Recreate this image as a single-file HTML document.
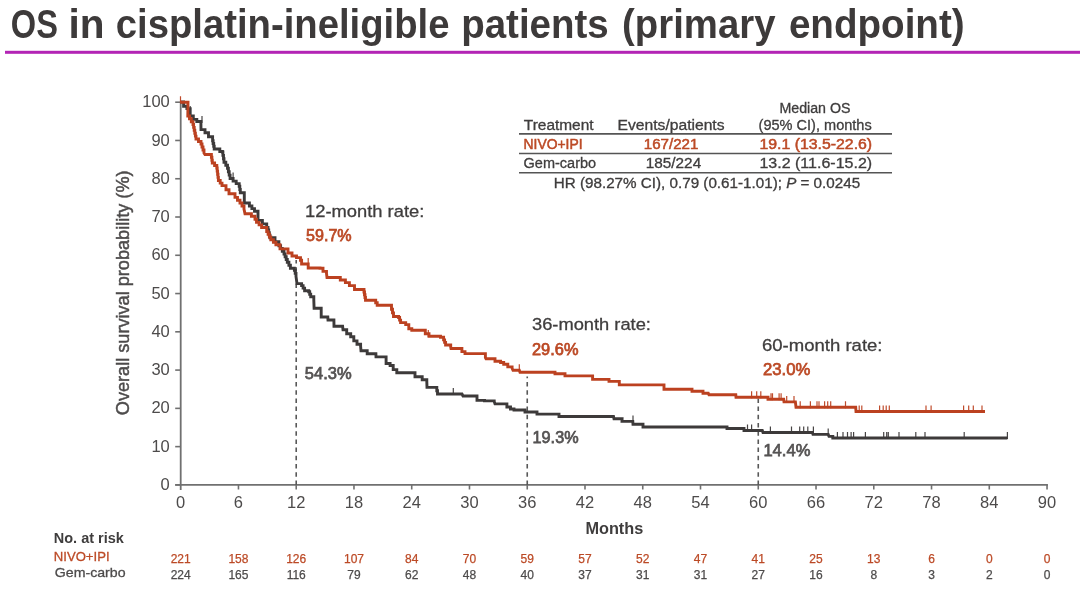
<!DOCTYPE html><html><head><meta charset="utf-8"><style>html,body{margin:0;padding:0;background:#fff;}svg{display:block;will-change:transform;}text{font-family:"Liberation Sans",sans-serif;}</style></head><body>
<svg width="1080" height="591" viewBox="0 0 1080 591">
<rect x="5" y="50.8" width="1075" height="3" fill="#B325B5"/>
<line x1="180.7" y1="101.69999999999999" x2="180.7" y2="489.9" stroke="#707070" stroke-width="1.8"/>
<line x1="175.2" y1="484.9" x2="1047.94" y2="484.9" stroke="#707070" stroke-width="1.8"/>
<line x1="175.2" y1="484.90" x2="180.7" y2="484.90" stroke="#707070" stroke-width="1.6"/>
<line x1="175.2" y1="446.63" x2="180.7" y2="446.63" stroke="#707070" stroke-width="1.6"/>
<line x1="175.2" y1="408.36" x2="180.7" y2="408.36" stroke="#707070" stroke-width="1.6"/>
<line x1="175.2" y1="370.09" x2="180.7" y2="370.09" stroke="#707070" stroke-width="1.6"/>
<line x1="175.2" y1="331.82" x2="180.7" y2="331.82" stroke="#707070" stroke-width="1.6"/>
<line x1="175.2" y1="293.55" x2="180.7" y2="293.55" stroke="#707070" stroke-width="1.6"/>
<line x1="175.2" y1="255.28" x2="180.7" y2="255.28" stroke="#707070" stroke-width="1.6"/>
<line x1="175.2" y1="217.01" x2="180.7" y2="217.01" stroke="#707070" stroke-width="1.6"/>
<line x1="175.2" y1="178.74" x2="180.7" y2="178.74" stroke="#707070" stroke-width="1.6"/>
<line x1="175.2" y1="140.47" x2="180.7" y2="140.47" stroke="#707070" stroke-width="1.6"/>
<line x1="175.2" y1="102.20" x2="180.7" y2="102.20" stroke="#707070" stroke-width="1.6"/>
<line x1="238.46" y1="484.9" x2="238.46" y2="489.5" stroke="#707070" stroke-width="1.6"/>
<line x1="296.21" y1="484.9" x2="296.21" y2="489.5" stroke="#707070" stroke-width="1.6"/>
<line x1="353.97" y1="484.9" x2="353.97" y2="489.5" stroke="#707070" stroke-width="1.6"/>
<line x1="411.72" y1="484.9" x2="411.72" y2="489.5" stroke="#707070" stroke-width="1.6"/>
<line x1="469.48" y1="484.9" x2="469.48" y2="489.5" stroke="#707070" stroke-width="1.6"/>
<line x1="527.24" y1="484.9" x2="527.24" y2="489.5" stroke="#707070" stroke-width="1.6"/>
<line x1="584.99" y1="484.9" x2="584.99" y2="489.5" stroke="#707070" stroke-width="1.6"/>
<line x1="642.75" y1="484.9" x2="642.75" y2="489.5" stroke="#707070" stroke-width="1.6"/>
<line x1="700.50" y1="484.9" x2="700.50" y2="489.5" stroke="#707070" stroke-width="1.6"/>
<line x1="758.26" y1="484.9" x2="758.26" y2="489.5" stroke="#707070" stroke-width="1.6"/>
<line x1="816.02" y1="484.9" x2="816.02" y2="489.5" stroke="#707070" stroke-width="1.6"/>
<line x1="873.77" y1="484.9" x2="873.77" y2="489.5" stroke="#707070" stroke-width="1.6"/>
<line x1="931.53" y1="484.9" x2="931.53" y2="489.5" stroke="#707070" stroke-width="1.6"/>
<line x1="989.28" y1="484.9" x2="989.28" y2="489.5" stroke="#707070" stroke-width="1.6"/>
<line x1="1047.04" y1="484.9" x2="1047.04" y2="489.5" stroke="#707070" stroke-width="1.6"/>
<line x1="519" y1="133.9" x2="892" y2="133.9" stroke="#555" stroke-width="1.6"/>
<line x1="519" y1="153.5" x2="892" y2="153.5" stroke="#555" stroke-width="1.6"/>
<line x1="519" y1="172.8" x2="892" y2="172.8" stroke="#555" stroke-width="1.6"/>
<line x1="296.21" y1="484.9" x2="296.21" y2="260" stroke="#585858" stroke-width="1.6" stroke-dasharray="4.5 3.7"/>
<line x1="527.24" y1="484.9" x2="527.24" y2="376.5" stroke="#585858" stroke-width="1.6" stroke-dasharray="4.5 3.7"/>
<line x1="758.26" y1="484.9" x2="758.26" y2="398" stroke="#585858" stroke-width="1.6" stroke-dasharray="4.5 3.7"/>
<path d="M180.5,102.0 L183.6,102.0 L183.6,106.2 L186.9,106.2 L186.9,108.6 L190.2,108.6 L190.2,111.0 L190.2,116.0 L193.3,116.0 L193.3,119.4 L196.8,119.4 L196.8,121.5 L200.9,121.5 L201.0,129.6 L205.0,129.6 L205.0,132.7 L208.5,132.7 L208.5,136.7 L212.6,136.7 L212.6,140.8 L213.1,140.8 L213.1,143.5 L213.7,143.5 L213.7,146.3 L214.2,146.3 L214.2,149.0 L219.8,149.0 L219.8,151.5 L222.4,151.5 L222.4,152.0 L222.9,152.0 L222.9,155.4 L223.5,155.4 L223.5,158.8 L224.0,158.8 L224.0,162.2 L225.8,162.2 L225.8,165.2 L227.5,165.2 L227.5,168.3 L228.4,168.3 L228.4,171.7 L229.2,171.7 L229.2,175.1 L230.1,175.1 L230.1,178.5 L233.1,178.5 L233.1,181.1 L236.2,181.1 L236.2,183.6 L239.2,183.6 L239.2,186.2 L239.8,186.2 L239.8,189.5 L240.3,189.5 L240.3,192.8 L244.3,192.8 L244.3,193.8 L244.3,203.0 L249.4,203.0 L249.4,206.0 L251.9,206.0 L251.9,208.6 L254.5,208.6 L254.5,211.2 L258.0,211.2 L258.0,220.4 L262.4,220.4 L262.4,223.9 L266.7,223.9 L266.7,227.5 L268.0,227.5 L268.0,230.0 L268.7,230.0 L268.7,232.6 L269.3,232.6 L269.3,235.1 L270.0,235.1 L270.0,237.7 L275.0,237.7 L275.0,241.8 L278.9,241.8 L278.9,245.8 L280.6,245.8 L280.6,248.5 L282.3,248.5 L282.3,251.3 L284.0,251.3 L284.0,254.0 L285.1,254.0 L285.1,256.7 L286.2,256.7 L286.2,259.5 L287.3,259.5 L287.3,262.2 L288.9,262.2 L288.9,265.2 L290.4,265.2 L290.4,268.3 L294.4,268.3 L294.4,270.4 L295.2,270.4 L295.2,273.4 L296.0,273.4 L296.0,276.5 L297.0,283.6 L301.6,283.6 L301.6,285.6 L303.1,285.6 L303.1,288.1 L304.6,288.1 L304.6,290.7 L308.7,290.7 L308.7,291.8 L309.7,291.8 L309.7,294.3 L310.7,294.3 L310.7,296.8 L313.8,296.8 L313.8,299.9 L314.1,308.3 L321.2,308.3 L321.2,317.0 L327.8,317.0 L328.0,320.0 L333.9,320.0 L334.0,326.2 L342.6,326.2 L343.0,329.7 L346.7,329.7 L346.7,333.8 L350.7,333.8 L350.7,336.8 L353.8,336.8 L353.8,340.9 L357.0,340.9 L357.0,344.2 L360.6,344.2 L360.6,346.2 L361.0,350.8 L367.2,350.8 L367.2,353.8 L375.9,353.8 L376.0,356.9 L386.1,356.9 L386.1,363.5 L390.1,363.5 L390.1,365.5 L393.2,365.5 L393.2,369.6 L396.8,369.6 L396.8,372.7 L413.6,372.7 L415.0,372.7 L415.0,376.8 L422.2,376.8 L422.2,379.8 L426.8,379.8 L426.8,381.3 L427.0,387.4 L436.0,387.4 L436.8,387.4 L436.8,390.7 L437.5,390.7 L437.5,394.0 L462.0,394.0 L463.0,396.0 L475.0,396.0 L477.0,396.0 L477.0,400.4 L484.5,400.4 L484.5,400.9 L494.2,400.9 L494.2,401.4 L495.0,403.9 L503.4,403.9 L506.9,403.9 L506.9,407.0 L510.5,407.0 L510.5,409.0 L514.0,409.0 L514.0,410.0 L523.2,410.0 L525.0,410.0 L525.0,412.0 L535.4,412.0 L537.0,412.0 L537.0,414.1 L556.8,414.1 L559.0,414.1 L559.0,416.5 L613.5,416.5 L614.0,418.8 L622.1,418.8 L622.0,421.4 L632.8,421.4 L633.0,424.3 L643.0,424.3 L643.0,427.0 L725.1,427.0 L727.0,427.0 L727.0,428.5 L744.0,428.5 L744.0,430.5 L762.3,430.5 L763.0,432.5 L812.4,432.5 L813.0,434.4 L828.2,434.4 L829.0,436.4 L832.8,436.4 L832.8,438.0 L1007.4,438.0" fill="none" stroke="#3d3a3a" stroke-width="2.9" stroke-linejoin="miter" stroke-linecap="butt"/>
<path d="M190.2,113.0 V106.0 M202.0,123.0 V116.0 M233.1,179.5 V172.5 M453.3,395.0 V388.0 M633.0,422.4 V415.4 M747.5,431.5 V424.5 M751.6,431.5 V424.5 M770.4,433.5 V426.5 M791.5,433.5 V426.5 M799.7,433.5 V426.5 M803.7,433.5 V426.5 M807.8,433.5 V426.5 M813.4,433.5 V426.5 M828.2,435.4 V428.4 M837.4,439.0 V432.0 M843.0,439.0 V432.0 M847.5,439.0 V432.0 M851.1,439.0 V432.0 M853.6,439.0 V432.0 M865.4,439.0 V432.0 M883.7,439.0 V432.0 M886.7,439.0 V432.0 M888.3,439.0 V432.0 M899.0,439.0 V432.0 M915.8,439.0 V432.0 M925.0,439.0 V432.0 M964.2,439.0 V432.0 M1007.4,439.0 V432.0" fill="none" stroke="#3d3a3a" stroke-width="1.2" opacity="0.95"/>
<path d="M180.5,102.3 L188.0,102.3 L187.8,116.0 L189.5,116.0 L189.5,118.8 L191.3,118.8 L191.3,121.7 L193.0,121.7 L193.0,124.5 L193.6,124.5 L193.6,127.4 L194.2,127.4 L194.2,130.3 L194.8,130.3 L194.8,133.2 L195.4,133.2 L195.4,136.1 L196.0,136.1 L196.0,139.0 L198.5,139.0 L198.5,141.5 L201.0,141.5 L201.0,144.0 L202.0,144.0 L202.0,147.0 L203.0,147.0 L203.0,150.0 L204.0,150.0 L204.0,153.0 L205.0,154.5 L211.0,154.5 L211.4,154.5 L211.4,157.3 L211.9,157.3 L211.9,160.2 L212.3,160.2 L212.3,163.0 L214.6,163.0 L214.6,165.5 L216.8,165.5 L216.8,168.0 L217.2,168.0 L217.2,171.1 L217.6,171.1 L217.6,174.2 L218.0,174.2 L218.0,177.4 L218.4,177.4 L218.4,180.5 L220.2,180.5 L220.2,183.1 L222.0,183.1 L222.0,185.6 L226.0,185.6 L226.0,189.7 L229.0,189.7 L229.0,193.8 L235.0,193.8 L235.0,197.4 L237.5,197.4 L237.5,200.2 L240.0,200.2 L240.0,203.0 L242.0,203.0 L242.0,206.0 L244.0,206.0 L244.0,209.0 L245.0,213.7 L251.4,213.7 L251.4,216.3 L255.0,216.3 L255.0,219.3 L256.5,219.3 L256.5,222.4 L259.1,222.4 L259.1,224.9 L261.6,224.9 L261.6,227.5 L266.7,227.5 L266.7,231.6 L268.1,231.6 L268.1,234.3 L269.4,234.3 L269.4,237.0 L270.8,237.0 L270.8,239.7 L273.4,239.7 L273.4,242.2 L275.9,242.2 L275.9,244.8 L280.0,244.8 L280.0,248.9 L288.0,248.9 L288.0,253.0 L292.0,253.0 L292.0,256.0 L296.5,256.0 L296.5,257.6 L300.5,257.6 L300.5,260.2 L301.6,260.2 L301.6,264.0 L308.2,264.0 L308.2,268.0 L320.0,268.0 L320.0,268.3 L323.0,268.3 L323.0,271.4 L326.5,271.4 L326.5,273.4 L327.0,277.5 L337.7,277.5 L340.3,277.5 L340.3,280.0 L345.4,280.0 L345.4,282.6 L349.4,282.6 L349.4,285.6 L354.5,285.6 L354.5,286.0 L354.5,289.5 L362.0,289.5 L364.0,289.5 L364.0,292.0 L364.5,292.0 L364.5,294.7 L365.0,294.7 L365.0,297.5 L365.5,297.5 L365.5,300.2 L374.2,300.2 L375.7,300.2 L375.7,302.8 L377.2,302.8 L377.2,305.3 L387.4,305.3 L391.5,305.3 L391.5,309.3 L392.5,309.3 L392.5,312.9 L393.5,312.9 L393.5,316.5 L398.6,316.5 L398.6,317.5 L399.6,317.5 L399.6,320.1 L400.6,320.1 L400.6,322.6 L405.7,322.6 L405.7,324.6 L408.8,324.6 L408.8,328.7 L411.8,328.7 L411.8,330.2 L423.2,330.2 L425.3,330.2 L425.3,333.8 L429.0,333.8 L429.0,336.3 L440.5,336.3 L440.5,337.3 L443.6,337.3 L443.6,339.9 L444.6,339.9 L444.6,342.4 L445.6,342.4 L445.6,345.0 L450.7,345.0 L450.7,347.0 L451.0,348.5 L458.9,348.5 L461.9,348.5 L461.9,351.6 L465.0,351.6 L465.0,353.6 L481.3,353.6 L485.4,353.6 L485.4,357.7 L486.0,358.7 L493.5,358.7 L495.0,358.7 L495.0,361.3 L500.6,361.3 L500.6,362.5 L503.7,362.5 L503.7,364.3 L507.8,364.3 L507.8,366.9 L512.1,366.9 L512.1,368.2 L513.0,370.3 L519.3,370.3 L520.0,372.3 L553.9,372.3 L555.0,372.3 L555.0,373.8 L563.6,373.8 L565.0,373.8 L565.0,375.9 L590.5,375.9 L592.6,375.9 L592.6,379.4 L607.9,379.4 L609.0,379.4 L609.0,381.4 L615.3,381.4 L619.3,381.4 L619.3,384.9 L662.6,384.9 L664.0,384.9 L664.0,389.3 L690.6,389.3 L692.0,389.3 L692.0,391.3 L700.8,391.3 L703.0,391.3 L703.0,393.3 L708.3,393.3 L709.0,394.8 L735.8,394.8 L736.0,397.3 L766.4,397.3 L768.0,397.3 L768.0,399.3 L783.7,399.3 L784.0,401.9 L795.4,401.9 L796.0,407.2 L855.7,407.2 L856.0,411.5 L985.0,411.5" fill="none" stroke="#BC4120" stroke-width="2.9" stroke-linejoin="miter" stroke-linecap="butt"/>
<path d="M180.5,103.3 V96.3 M308.2,265.0 V258.0 M428.3,337.0 V330.0 M519.3,371.3 V364.3 M751.6,398.3 V391.3 M756.7,398.3 V391.3 M760.8,398.3 V391.3 M771.0,400.3 V393.3 M772.5,400.3 V393.3 M779.1,400.3 V393.3 M781.1,400.3 V393.3 M786.7,402.9 V395.9 M794.0,402.9 V395.9 M800.2,408.2 V401.2 M810.4,408.2 V401.2 M817.0,408.2 V401.2 M819.0,408.2 V401.2 M824.6,408.2 V401.2 M827.7,408.2 V401.2 M830.7,408.2 V401.2 M845.5,408.2 V401.2 M859.2,412.5 V405.5 M861.8,412.5 V405.5 M879.6,412.5 V405.5 M883.2,412.5 V405.5 M886.2,412.5 V405.5 M889.3,412.5 V405.5 M926.0,412.5 V405.5 M931.1,412.5 V405.5 M963.6,412.5 V405.5 M968.7,412.5 V405.5 M973.3,412.5 V405.5 M982.0,412.5 V405.5" fill="none" stroke="#BC4120" stroke-width="1.2" opacity="0.95"/>
<text x="10.80" y="37.90" font-size="40" font-weight="700" fill="#3d3a3a" textLength="47.05" lengthAdjust="spacingAndGlyphs">OS</text>
<text x="68.60" y="37.90" font-size="40" font-weight="700" fill="#3d3a3a" textLength="36.03" lengthAdjust="spacingAndGlyphs">in</text>
<text x="115.80" y="37.90" font-size="40" font-weight="700" fill="#3d3a3a" textLength="333.62" lengthAdjust="spacingAndGlyphs">cisplatin-ineligible</text>
<text x="461.20" y="37.90" font-size="40" font-weight="700" fill="#3d3a3a" textLength="147.57" lengthAdjust="spacingAndGlyphs">patients</text>
<text x="622.10" y="37.90" font-size="40" font-weight="700" fill="#3d3a3a" textLength="153.41" lengthAdjust="spacingAndGlyphs">(primary</text>
<text x="788.90" y="37.90" font-size="40" font-weight="700" fill="#3d3a3a" textLength="175.74" lengthAdjust="spacingAndGlyphs">endpoint)</text>
<text x="169.80" y="490.00" font-size="16.5" font-weight="400" fill="#4d4b4b" text-anchor="end">0</text>
<text x="169.80" y="451.73" font-size="16.5" font-weight="400" fill="#4d4b4b" text-anchor="end">10</text>
<text x="169.80" y="413.46" font-size="16.5" font-weight="400" fill="#4d4b4b" text-anchor="end">20</text>
<text x="169.80" y="375.19" font-size="16.5" font-weight="400" fill="#4d4b4b" text-anchor="end">30</text>
<text x="169.80" y="336.92" font-size="16.5" font-weight="400" fill="#4d4b4b" text-anchor="end">40</text>
<text x="169.80" y="298.65" font-size="16.5" font-weight="400" fill="#4d4b4b" text-anchor="end">50</text>
<text x="169.80" y="260.38" font-size="16.5" font-weight="400" fill="#4d4b4b" text-anchor="end">60</text>
<text x="169.80" y="222.11" font-size="16.5" font-weight="400" fill="#4d4b4b" text-anchor="end">70</text>
<text x="169.80" y="183.84" font-size="16.5" font-weight="400" fill="#4d4b4b" text-anchor="end">80</text>
<text x="169.80" y="145.57" font-size="16.5" font-weight="400" fill="#4d4b4b" text-anchor="end">90</text>
<text x="169.80" y="107.30" font-size="16.5" font-weight="400" fill="#4d4b4b" text-anchor="end">100</text>
<text x="180.70" y="507.60" font-size="16.5" font-weight="400" fill="#4d4b4b" text-anchor="middle">0</text>
<text x="238.46" y="507.60" font-size="16.5" font-weight="400" fill="#4d4b4b" text-anchor="middle">6</text>
<text x="296.21" y="507.60" font-size="16.5" font-weight="400" fill="#4d4b4b" text-anchor="middle">12</text>
<text x="353.97" y="507.60" font-size="16.5" font-weight="400" fill="#4d4b4b" text-anchor="middle">18</text>
<text x="411.72" y="507.60" font-size="16.5" font-weight="400" fill="#4d4b4b" text-anchor="middle">24</text>
<text x="469.48" y="507.60" font-size="16.5" font-weight="400" fill="#4d4b4b" text-anchor="middle">30</text>
<text x="527.24" y="507.60" font-size="16.5" font-weight="400" fill="#4d4b4b" text-anchor="middle">36</text>
<text x="584.99" y="507.60" font-size="16.5" font-weight="400" fill="#4d4b4b" text-anchor="middle">42</text>
<text x="642.75" y="507.60" font-size="16.5" font-weight="400" fill="#4d4b4b" text-anchor="middle">48</text>
<text x="700.50" y="507.60" font-size="16.5" font-weight="400" fill="#4d4b4b" text-anchor="middle">54</text>
<text x="758.26" y="507.60" font-size="16.5" font-weight="400" fill="#4d4b4b" text-anchor="middle">60</text>
<text x="816.02" y="507.60" font-size="16.5" font-weight="400" fill="#4d4b4b" text-anchor="middle">66</text>
<text x="873.77" y="507.60" font-size="16.5" font-weight="400" fill="#4d4b4b" text-anchor="middle">72</text>
<text x="931.53" y="507.60" font-size="16.5" font-weight="400" fill="#4d4b4b" text-anchor="middle">78</text>
<text x="989.28" y="507.60" font-size="16.5" font-weight="400" fill="#4d4b4b" text-anchor="middle">84</text>
<text x="1047.04" y="507.60" font-size="16.5" font-weight="400" fill="#4d4b4b" text-anchor="middle">90</text>
<text x="585.40" y="534.00" font-size="17.3" font-weight="700" fill="#3f3d3d" textLength="57.88" lengthAdjust="spacingAndGlyphs">Months</text>
<text transform="translate(128.50,415.20) rotate(-90)" font-size="17.6" font-weight="400" fill="#4d4b4b" stroke="#4d4b4b" stroke-width="0.45" textLength="244.74" lengthAdjust="spacingAndGlyphs">Overall survival probability (%)</text>
<text x="779.40" y="112.60" font-size="13.8" font-weight="400" fill="#3f3d3d" stroke="#3f3d3d" stroke-width="0.3" textLength="71.13" lengthAdjust="spacingAndGlyphs">Median OS</text>
<text x="523.80" y="129.80" font-size="13.8" font-weight="400" fill="#3f3d3d" stroke="#3f3d3d" stroke-width="0.3" textLength="69.79" lengthAdjust="spacingAndGlyphs">Treatment</text>
<text x="617.60" y="129.80" font-size="13.8" font-weight="400" fill="#3f3d3d" stroke="#3f3d3d" stroke-width="0.3" textLength="106.93" lengthAdjust="spacingAndGlyphs">Events/patients</text>
<text x="758.60" y="129.80" font-size="13.8" font-weight="400" fill="#3f3d3d" stroke="#3f3d3d" stroke-width="0.3" textLength="113.13" lengthAdjust="spacingAndGlyphs">(95% CI), months</text>
<text x="523.60" y="149.20" font-size="13.8" font-weight="400" fill="#BC4A26" stroke="#BC4A26" stroke-width="0.5" textLength="59.00" lengthAdjust="spacingAndGlyphs">NIVO+IPI</text>
<text x="643.80" y="149.20" font-size="13.8" font-weight="400" fill="#BC4A26" stroke="#BC4A26" stroke-width="0.5" textLength="54.58" lengthAdjust="spacingAndGlyphs">167/221</text>
<text x="759.40" y="149.20" font-size="13.8" font-weight="400" fill="#BC4A26" stroke="#BC4A26" stroke-width="0.5" textLength="112.76" lengthAdjust="spacingAndGlyphs">19.1 (13.5-22.6)</text>
<text x="523.60" y="168.10" font-size="13.8" font-weight="400" fill="#3f3d3d" stroke="#3f3d3d" stroke-width="0.3" textLength="72.55" lengthAdjust="spacingAndGlyphs">Gem-carbo</text>
<text x="645.80" y="168.10" font-size="13.8" font-weight="400" fill="#3f3d3d" stroke="#3f3d3d" stroke-width="0.3" textLength="55.36" lengthAdjust="spacingAndGlyphs">185/224</text>
<text x="759.40" y="168.10" font-size="13.8" font-weight="400" fill="#3f3d3d" stroke="#3f3d3d" stroke-width="0.3" textLength="112.74" lengthAdjust="spacingAndGlyphs">13.2 (11.6-15.2)</text>
<text x="553.80" y="187.60" font-size="13.8" font-weight="400" fill="#3f3d3d" stroke="#3f3d3d" stroke-width="0.3" textLength="306.32" lengthAdjust="spacingAndGlyphs">HR (98.27% CI), 0.79 (0.61-1.01); <tspan font-style="italic">P</tspan> = 0.0245</text>
<text x="305.00" y="217.00" font-size="17.2" font-weight="400" fill="#3f3d3d" stroke="#3f3d3d" stroke-width="0.3" textLength="119.34" lengthAdjust="spacingAndGlyphs">12-month rate:</text>
<text x="306.00" y="241.30" font-size="17.2" font-weight="400" fill="#BC4A26" stroke="#BC4A26" stroke-width="0.75" textLength="45.69" lengthAdjust="spacingAndGlyphs">59.7%</text>
<text x="304.80" y="379.10" font-size="17.2" font-weight="400" fill="#555353" stroke="#555353" stroke-width="0.75" textLength="46.86" lengthAdjust="spacingAndGlyphs">54.3%</text>
<text x="532.00" y="330.10" font-size="17.2" font-weight="400" fill="#3f3d3d" stroke="#3f3d3d" stroke-width="0.3" textLength="118.95" lengthAdjust="spacingAndGlyphs">36-month rate:</text>
<text x="532.00" y="354.70" font-size="17.2" font-weight="400" fill="#BC4A26" stroke="#BC4A26" stroke-width="0.75" textLength="46.47" lengthAdjust="spacingAndGlyphs">29.6%</text>
<text x="532.60" y="442.80" font-size="17.2" font-weight="400" fill="#555353" stroke="#555353" stroke-width="0.75" textLength="45.96" lengthAdjust="spacingAndGlyphs">19.3%</text>
<text x="762.00" y="350.90" font-size="17.2" font-weight="400" fill="#3f3d3d" stroke="#3f3d3d" stroke-width="0.3" textLength="120.52" lengthAdjust="spacingAndGlyphs">60-month rate:</text>
<text x="763.00" y="374.50" font-size="17.2" font-weight="400" fill="#BC4A26" stroke="#BC4A26" stroke-width="0.75" textLength="47.32" lengthAdjust="spacingAndGlyphs">23.0%</text>
<text x="763.40" y="455.60" font-size="17.2" font-weight="400" fill="#555353" stroke="#555353" stroke-width="0.75" textLength="46.98" lengthAdjust="spacingAndGlyphs">14.4%</text>
<text x="53.80" y="542.60" font-size="14.1" font-weight="700" fill="#3f3d3d" textLength="69.99" lengthAdjust="spacingAndGlyphs">No. at risk</text>
<text x="53.80" y="560.60" font-size="13.5" font-weight="400" fill="#BC4A26" stroke="#BC4A26" stroke-width="0.3" textLength="55.75" lengthAdjust="spacingAndGlyphs">NIVO+IPI</text>
<text x="54.80" y="577.30" font-size="13.5" font-weight="400" fill="#4d4b4b" stroke="#4d4b4b" stroke-width="0.3" textLength="70.73" lengthAdjust="spacingAndGlyphs">Gem-carbo</text>
<text x="180.70" y="562.70" font-size="12.0" font-weight="400" fill="#BC4A26" stroke="#BC4A26" stroke-width="0.25" text-anchor="middle">221</text>
<text x="180.70" y="578.70" font-size="12.0" font-weight="400" fill="#4d4b4b" stroke="#4d4b4b" stroke-width="0.25" text-anchor="middle">224</text>
<text x="238.46" y="562.70" font-size="12.0" font-weight="400" fill="#BC4A26" stroke="#BC4A26" stroke-width="0.25" text-anchor="middle">158</text>
<text x="238.46" y="578.70" font-size="12.0" font-weight="400" fill="#4d4b4b" stroke="#4d4b4b" stroke-width="0.25" text-anchor="middle">165</text>
<text x="296.21" y="562.70" font-size="12.0" font-weight="400" fill="#BC4A26" stroke="#BC4A26" stroke-width="0.25" text-anchor="middle">126</text>
<text x="296.21" y="578.70" font-size="12.0" font-weight="400" fill="#4d4b4b" stroke="#4d4b4b" stroke-width="0.25" text-anchor="middle">116</text>
<text x="353.97" y="562.70" font-size="12.0" font-weight="400" fill="#BC4A26" stroke="#BC4A26" stroke-width="0.25" text-anchor="middle">107</text>
<text x="353.97" y="578.70" font-size="12.0" font-weight="400" fill="#4d4b4b" stroke="#4d4b4b" stroke-width="0.25" text-anchor="middle">79</text>
<text x="411.72" y="562.70" font-size="12.0" font-weight="400" fill="#BC4A26" stroke="#BC4A26" stroke-width="0.25" text-anchor="middle">84</text>
<text x="411.72" y="578.70" font-size="12.0" font-weight="400" fill="#4d4b4b" stroke="#4d4b4b" stroke-width="0.25" text-anchor="middle">62</text>
<text x="469.48" y="562.70" font-size="12.0" font-weight="400" fill="#BC4A26" stroke="#BC4A26" stroke-width="0.25" text-anchor="middle">70</text>
<text x="469.48" y="578.70" font-size="12.0" font-weight="400" fill="#4d4b4b" stroke="#4d4b4b" stroke-width="0.25" text-anchor="middle">48</text>
<text x="527.24" y="562.70" font-size="12.0" font-weight="400" fill="#BC4A26" stroke="#BC4A26" stroke-width="0.25" text-anchor="middle">59</text>
<text x="527.24" y="578.70" font-size="12.0" font-weight="400" fill="#4d4b4b" stroke="#4d4b4b" stroke-width="0.25" text-anchor="middle">40</text>
<text x="584.99" y="562.70" font-size="12.0" font-weight="400" fill="#BC4A26" stroke="#BC4A26" stroke-width="0.25" text-anchor="middle">57</text>
<text x="584.99" y="578.70" font-size="12.0" font-weight="400" fill="#4d4b4b" stroke="#4d4b4b" stroke-width="0.25" text-anchor="middle">37</text>
<text x="642.75" y="562.70" font-size="12.0" font-weight="400" fill="#BC4A26" stroke="#BC4A26" stroke-width="0.25" text-anchor="middle">52</text>
<text x="642.75" y="578.70" font-size="12.0" font-weight="400" fill="#4d4b4b" stroke="#4d4b4b" stroke-width="0.25" text-anchor="middle">31</text>
<text x="700.50" y="562.70" font-size="12.0" font-weight="400" fill="#BC4A26" stroke="#BC4A26" stroke-width="0.25" text-anchor="middle">47</text>
<text x="700.50" y="578.70" font-size="12.0" font-weight="400" fill="#4d4b4b" stroke="#4d4b4b" stroke-width="0.25" text-anchor="middle">31</text>
<text x="758.26" y="562.70" font-size="12.0" font-weight="400" fill="#BC4A26" stroke="#BC4A26" stroke-width="0.25" text-anchor="middle">41</text>
<text x="758.26" y="578.70" font-size="12.0" font-weight="400" fill="#4d4b4b" stroke="#4d4b4b" stroke-width="0.25" text-anchor="middle">27</text>
<text x="816.02" y="562.70" font-size="12.0" font-weight="400" fill="#BC4A26" stroke="#BC4A26" stroke-width="0.25" text-anchor="middle">25</text>
<text x="816.02" y="578.70" font-size="12.0" font-weight="400" fill="#4d4b4b" stroke="#4d4b4b" stroke-width="0.25" text-anchor="middle">16</text>
<text x="873.77" y="562.70" font-size="12.0" font-weight="400" fill="#BC4A26" stroke="#BC4A26" stroke-width="0.25" text-anchor="middle">13</text>
<text x="873.77" y="578.70" font-size="12.0" font-weight="400" fill="#4d4b4b" stroke="#4d4b4b" stroke-width="0.25" text-anchor="middle">8</text>
<text x="931.53" y="562.70" font-size="12.0" font-weight="400" fill="#BC4A26" stroke="#BC4A26" stroke-width="0.25" text-anchor="middle">6</text>
<text x="931.53" y="578.70" font-size="12.0" font-weight="400" fill="#4d4b4b" stroke="#4d4b4b" stroke-width="0.25" text-anchor="middle">3</text>
<text x="989.28" y="562.70" font-size="12.0" font-weight="400" fill="#BC4A26" stroke="#BC4A26" stroke-width="0.25" text-anchor="middle">0</text>
<text x="989.28" y="578.70" font-size="12.0" font-weight="400" fill="#4d4b4b" stroke="#4d4b4b" stroke-width="0.25" text-anchor="middle">2</text>
<text x="1047.04" y="562.70" font-size="12.0" font-weight="400" fill="#BC4A26" stroke="#BC4A26" stroke-width="0.25" text-anchor="middle">0</text>
<text x="1047.04" y="578.70" font-size="12.0" font-weight="400" fill="#4d4b4b" stroke="#4d4b4b" stroke-width="0.25" text-anchor="middle">0</text>
</svg></body></html>
